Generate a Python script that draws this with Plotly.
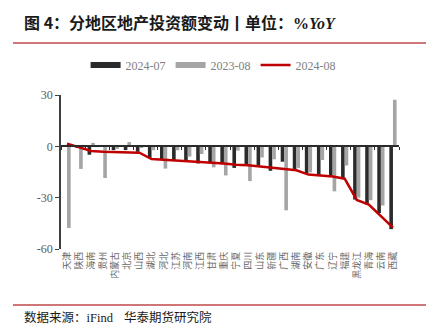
import plotly.graph_objects as go

categories = ["天津", "陕西", "海南", "贵州", "内蒙古", "北京", "山西", "湖北", "河北", "江苏",
              "河南", "江西", "甘肃", "重庆", "宁夏", "四川", "山东", "新疆", "广西", "湖南",
              "安徽", "广东", "辽宁", "福建", "黑龙江", "青海", "云南", "西藏"]

s_2024_07 = [0.8, -0.5, -4.9, 0.5, -2.2, -2.2, -3.2, -7.0, -7.5, -8.2,
             -8.9, -10.0, -9.5, -10.5, -12.6, -11.3, -11.3, -14.3, -9.0, -13.6,
             -15.6, -17.1, -17.8, -18.5, -31.1, -34.0, -39.0, -48.4]

s_2023_08 = [-47.7, -13.2, 2.0, -18.5, -1.5, 2.5, -0.8, -2.3, -13.0, -2.3,
             -6.0, -4.5, -12.3, -17.0, -2.5, -20.3, -6.5, -7.6, -37.4, -12.6,
             -15.2, -8.0, -26.3, -11.2, -30.0, -31.5, -34.6, 27.2]

s_2024_08 = [1.6, -0.5, -2.7, -3.1, -3.3, -3.5, -3.7, -7.4, -7.8, -8.4,
             -8.9, -9.3, -9.6, -10.0, -10.7, -11.0, -11.8, -12.6, -13.2, -14.0,
             -16.5, -17.2, -17.6, -18.9, -31.3, -34.0, -40.6, -47.5]

y_ticks = [-60, -30, 0, 30]
y_ticktext = ["-60", "-30", "0", "30"]
names = ["2024-07", "2023-08", "2024-08"]

C_BLACK = "#2b2b2b"
C_GRAY = "#a5a5a5"
C_RED = "#c00000"
C_DECOR = "#cf7777"
SERIF = "Liberation Serif, Times New Roman, serif"
CJK = "Noto Sans CJK SC, sans-serif"

fig = go.Figure()

fig.add_trace(go.Bar(x=categories, y=s_2024_07, name=names[0], marker_color=C_BLACK,
                     marker_line_width=0, showlegend=False))
fig.add_trace(go.Bar(x=categories, y=s_2023_08, name=names[1], marker_color=C_GRAY,
                     marker_line_width=0, showlegend=False))
fig.add_trace(go.Scatter(x=categories, y=s_2024_08, name=names[2], mode="lines",
                         line=dict(color=C_RED, width=2.5), xaxis="x2", yaxis="y",
                         showlegend=False))

# legend entries
fig.add_trace(go.Scatter(x=[None], y=[None], mode="lines", name=names[0],
                         line=dict(color=C_BLACK, width=6)))
fig.add_trace(go.Scatter(x=[None], y=[None], mode="lines", name=names[1],
                         line=dict(color=C_GRAY, width=6)))
fig.add_trace(go.Scatter(x=[None], y=[None], mode="lines", name=names[2],
                         line=dict(color=C_RED, width=2.5)))

zero_pos = (0 - (-60)) / 90.0

fig.update_layout(
    width=441, height=336,
    margin=dict(l=61, r=42, t=95, b=87),
    paper_bgcolor="white", plot_bgcolor="white",
    barmode="group", bargap=0.4, bargroupgap=0.0,
    font=dict(family=CJK, color="#595959"),
    showlegend=True,
    legend=dict(orientation="h", x=0.45, xanchor="center", y=1.194, yanchor="middle",
                font=dict(family=SERIF, size=12, color="#808080"),
                itemwidth=30, traceorder="normal", bgcolor="rgba(0,0,0,0)"),
    xaxis=dict(type="category", showline=False, ticks="", showgrid=False, zeroline=False,
               tickangle=-90, tickfont=dict(family=CJK, size=9, color="#666666"),
               range=[-0.5, len(categories) - 0.5]),
    xaxis2=dict(type="category", overlaying="x", matches="x", anchor="free", position=zero_pos,
                showticklabels=False, ticks="outside", ticklen=3, tickwidth=1,
                tickcolor=C_BLACK, tickson="boundaries", showline=True,
                linecolor=C_BLACK, linewidth=1.8, showgrid=False, zeroline=False),
    yaxis=dict(range=[-60, 30], tickvals=y_ticks, ticktext=y_ticktext, showgrid=False,
               zeroline=False, showline=True, linecolor="#404040", linewidth=1.5,
               ticks="outside", ticklen=4, tickcolor="#404040",
               tickfont=dict(family=SERIF, size=12, color="#595959")),
)

# title and source as annotations
fig.add_annotation(
    xref="paper", yref="paper", x=(22 - 61) / 338, y=(336 - 22 - 87) / 154, xanchor="left",
    yanchor="middle", showarrow=False,
    text="<b>图 4：分地区地产投资额变动丨单位：</b><span style=\"font-family:Liberation Serif\"><b>%<i>YoY</i></b></span>",
    font=dict(family=CJK, size=16, color="#1a1a1a"))
fig.add_annotation(
    xref="paper", yref="paper", x=(22 - 61) / 338, y=(336 - 316 - 87) / 154, xanchor="left",
    yanchor="middle", showarrow=False,
    text="数据来源：<span style=\"font-family:Liberation Serif\">iFind</span>    华泰期货研究院",
    font=dict(family=CJK, size=12.5, color="#1a1a1a"))

# decorative header / footer rules
for yy in [43, 305]:
    yp = (336 - yy - 87) / 154
    fig.add_shape(type="line", xref="paper", yref="paper", x0=(13 - 61) / 338,
                  x1=(426 - 61) / 338, y0=yp, y1=yp, line=dict(color=C_DECOR, width=2))

fig.write_html("out.html")
